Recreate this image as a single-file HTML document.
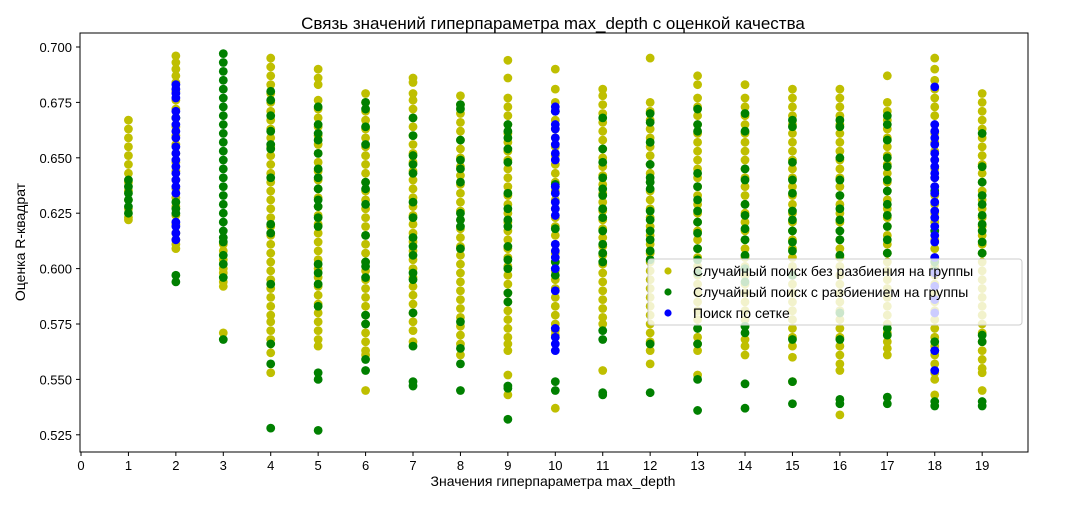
<!DOCTYPE html>
<html><head><meta charset="utf-8">
<style>
body{margin:0;background:#fff;}
svg text{font-family:"Liberation Sans","DejaVu Sans",sans-serif;}
</style></head>
<body>
<svg id="chart" width="1080" height="504" viewBox="0 0 1080 504" xmlns="http://www.w3.org/2000/svg">
<rect x="0" y="0" width="1080" height="504" fill="#fff"/>
<text x="553" y="29" font-size="17" text-anchor="middle" fill="#000">Связь значений гиперпараметра max_depth с оценкой качества</text>
<g id="marks"></g>
<rect x="80" y="33" width="948" height="419" fill="none" stroke="#000" stroke-width="1"/>
<g id="axes"></g>
<text x="553" y="486" font-size="14" text-anchor="middle">Значения гиперпараметра max_depth</text>
<text x="0" y="0" font-size="14" text-anchor="middle" transform="translate(25,242) rotate(-90)">Оценка R-квадрат</text>
<g>
<rect x="648" y="259" width="374" height="66" rx="3" fill="#fff" fill-opacity="0.8" stroke="#ccc" stroke-width="1"/>
<circle cx="668" cy="271" r="3.6" fill="#bfbf00"/>
<text x="693" y="276" font-size="14">Случайный поиск без разбиения на группы</text>
<circle cx="668" cy="292" r="3.6" fill="#008000"/>
<text x="693" y="297" font-size="14">Случайный поиск с разбиением на группы</text>
<circle cx="668" cy="313" r="3.6" fill="#0000ff"/>
<text x="693" y="318" font-size="14">Поиск по сетке</text>
</g>
</svg>
<script>
const depths=[1,2,3,4,5,6,7,8,9,10,11,12,13,14,15,16,17,18,19];
const xTicks=[0,1,2,3,4,5,6,7,8,9,10,11,12,13,14,15,16,17,18,19];
const yTicks=[0.525,0.550,0.575,0.600,0.625,0.650,0.675,0.700];
const randomScores=[
[0.667,0.663,0.659,0.655,0.651,0.647,0.643,0.639,0.635,0.631,0.627,0.623,0.622],
[0.696,0.693,0.690,0.687,0.684,0.680,0.676,0.672,0.668,0.664,0.660,0.656,0.652,0.648,0.644,0.640,0.636,0.632,0.628,0.624,0.620,0.616,0.613,0.611,0.609],
[0.611,0.608,0.604,0.600,0.598,0.594,0.592,0.571],
[0.695,0.691,0.687,0.683,0.679,0.675,0.671,0.667,0.663,0.659,0.655,0.651,0.647,0.643,0.639,0.635,0.631,0.627,0.623,0.619,0.615,0.611,0.607,0.603,0.599,0.595,0.591,0.587,0.583,0.579,0.576,0.572,0.568,0.562,0.553],
[0.690,0.686,0.683,0.676,0.672,0.668,0.664,0.660,0.656,0.652,0.648,0.644,0.640,0.636,0.632,0.628,0.624,0.620,0.616,0.612,0.608,0.604,0.600,0.596,0.592,0.588,0.584,0.580,0.576,0.572,0.568,0.565],
[0.679,0.675,0.671,0.667,0.663,0.659,0.655,0.651,0.647,0.643,0.639,0.635,0.631,0.627,0.623,0.619,0.615,0.611,0.607,0.603,0.599,0.595,0.591,0.587,0.583,0.579,0.575,0.571,0.567,0.563,0.561,0.545],
[0.686,0.684,0.679,0.676,0.672,0.668,0.664,0.660,0.656,0.652,0.648,0.644,0.640,0.636,0.632,0.628,0.624,0.620,0.616,0.612,0.608,0.604,0.600,0.596,0.592,0.588,0.584,0.580,0.576,0.572,0.567],
[0.678,0.674,0.670,0.666,0.662,0.658,0.654,0.650,0.646,0.642,0.638,0.634,0.630,0.626,0.622,0.618,0.614,0.610,0.606,0.602,0.598,0.594,0.590,0.586,0.582,0.578,0.574,0.570,0.566,0.561],
[0.694,0.686,0.677,0.673,0.669,0.665,0.661,0.657,0.653,0.649,0.645,0.641,0.637,0.633,0.629,0.625,0.621,0.617,0.613,0.609,0.605,0.601,0.597,0.593,0.589,0.585,0.581,0.577,0.573,0.569,0.566,0.563,0.552,0.543],
[0.690,0.681,0.675,0.671,0.667,0.663,0.659,0.655,0.651,0.647,0.643,0.639,0.635,0.631,0.627,0.623,0.619,0.615,0.611,0.607,0.603,0.599,0.595,0.591,0.587,0.583,0.579,0.575,0.572,0.570,0.537],
[0.681,0.678,0.674,0.670,0.666,0.662,0.658,0.654,0.650,0.646,0.642,0.638,0.634,0.630,0.626,0.622,0.618,0.614,0.610,0.606,0.602,0.598,0.594,0.590,0.586,0.582,0.578,0.575,0.554],
[0.695,0.675,0.671,0.667,0.663,0.659,0.655,0.651,0.647,0.643,0.639,0.635,0.631,0.627,0.623,0.619,0.615,0.611,0.607,0.603,0.599,0.595,0.591,0.587,0.583,0.579,0.575,0.571,0.567,0.563,0.557],
[0.687,0.683,0.677,0.673,0.669,0.665,0.661,0.657,0.653,0.649,0.645,0.641,0.637,0.633,0.629,0.625,0.621,0.617,0.613,0.609,0.605,0.601,0.597,0.593,0.589,0.585,0.581,0.577,0.573,0.569,0.566,0.563,0.552],
[0.683,0.677,0.673,0.669,0.665,0.661,0.657,0.653,0.649,0.645,0.641,0.637,0.633,0.629,0.625,0.621,0.617,0.613,0.609,0.605,0.601,0.597,0.593,0.589,0.585,0.581,0.577,0.574,0.568,0.565,0.561],
[0.681,0.677,0.673,0.669,0.665,0.661,0.657,0.653,0.649,0.645,0.641,0.637,0.633,0.629,0.625,0.621,0.617,0.613,0.609,0.605,0.601,0.597,0.593,0.589,0.585,0.581,0.577,0.573,0.569,0.565,0.560,0.549],
[0.681,0.677,0.673,0.669,0.665,0.661,0.657,0.653,0.649,0.645,0.641,0.637,0.633,0.629,0.625,0.621,0.617,0.613,0.609,0.605,0.601,0.597,0.593,0.589,0.585,0.581,0.577,0.573,0.569,0.565,0.561,0.557,0.554,0.534],
[0.687,0.675,0.671,0.667,0.663,0.659,0.655,0.651,0.647,0.643,0.639,0.635,0.631,0.627,0.623,0.619,0.615,0.611,0.607,0.603,0.599,0.595,0.591,0.587,0.583,0.579,0.575,0.571,0.567,0.564,0.561],
[0.695,0.690,0.685,0.681,0.677,0.673,0.669,0.665,0.661,0.657,0.653,0.649,0.645,0.641,0.637,0.633,0.629,0.625,0.621,0.617,0.613,0.609,0.605,0.601,0.597,0.593,0.589,0.585,0.581,0.577,0.573,0.569,0.565,0.561,0.557,0.553,0.550,0.543],
[0.679,0.675,0.671,0.667,0.663,0.659,0.655,0.651,0.647,0.643,0.639,0.635,0.631,0.627,0.623,0.619,0.615,0.611,0.607,0.603,0.599,0.595,0.591,0.587,0.583,0.579,0.575,0.571,0.567,0.563,0.559,0.555,0.553,0.545]
];
const groupScores=[
[0.640,0.637,0.634,0.631,0.628,0.625],
[0.668,0.630,0.627,0.625,0.597,0.594],
[0.697,0.693,0.689,0.685,0.681,0.677,0.673,0.669,0.665,0.661,0.657,0.653,0.649,0.645,0.641,0.637,0.633,0.629,0.625,0.621,0.617,0.614,0.612,0.606,0.602,0.596,0.568],
[0.680,0.676,0.669,0.662,0.656,0.654,0.641,0.620,0.616,0.593,0.566,0.557,0.528],
[0.673,0.665,0.661,0.658,0.652,0.645,0.641,0.636,0.631,0.628,0.623,0.619,0.602,0.598,0.593,0.583,0.553,0.550,0.527],
[0.675,0.672,0.664,0.656,0.639,0.636,0.629,0.615,0.603,0.601,0.596,0.579,0.575,0.559,0.554],
[0.668,0.660,0.651,0.647,0.643,0.630,0.623,0.614,0.610,0.606,0.598,0.595,0.580,0.565,0.549,0.547],
[0.674,0.672,0.658,0.649,0.645,0.639,0.625,0.622,0.619,0.609,0.576,0.564,0.557,0.545],
[0.665,0.662,0.659,0.654,0.648,0.634,0.627,0.622,0.619,0.610,0.604,0.600,0.589,0.585,0.547,0.546,0.532],
[0.671,0.638,0.618,0.603,0.597,0.549,0.545],
[0.668,0.654,0.648,0.641,0.636,0.633,0.627,0.623,0.617,0.611,0.607,0.603,0.572,0.568,0.544,0.543],
[0.670,0.666,0.657,0.647,0.641,0.639,0.636,0.626,0.622,0.617,0.613,0.608,0.604,0.566,0.544],
[0.672,0.665,0.662,0.643,0.637,0.631,0.626,0.621,0.616,0.609,0.604,0.598,0.573,0.566,0.550,0.536],
[0.670,0.662,0.645,0.640,0.629,0.624,0.618,0.613,0.606,0.600,0.594,0.574,0.571,0.548,0.537],
[0.667,0.664,0.648,0.640,0.634,0.626,0.622,0.617,0.612,0.608,0.597,0.568,0.549,0.539],
[0.667,0.664,0.650,0.640,0.633,0.627,0.622,0.617,0.613,0.606,0.580,0.568,0.541,0.539],
[0.669,0.665,0.658,0.650,0.646,0.640,0.635,0.629,0.624,0.619,0.613,0.607,0.573,0.570,0.542,0.539],
[0.635,0.617,0.603,0.599,0.567,0.563,0.540,0.538],
[0.661,0.646,0.639,0.633,0.629,0.624,0.620,0.617,0.612,0.607,0.570,0.567,0.540,0.538]
];
const gridDepths=[2,10,18];
const gridScores=[
[0.683,0.681,0.679,0.677,0.671,0.668,0.665,0.662,0.659,0.655,0.652,0.649,0.646,0.643,0.640,0.637,0.634,0.621,0.619,0.616,0.613],
[0.673,0.671,0.665,0.663,0.659,0.656,0.652,0.649,0.637,0.634,0.630,0.627,0.624,0.611,0.608,0.605,0.600,0.590,0.573,0.569,0.566,0.563],
[0.682,0.665,0.662,0.659,0.656,0.652,0.649,0.646,0.643,0.641,0.637,0.634,0.630,0.626,0.623,0.619,0.615,0.612,0.605,0.598,0.592,0.586,0.580,0.563,0.554]
];
const NS='http://www.w3.org/2000/svg';
function xScale(d){return 81+d*47.43;}
function yScale(v){return 47+(0.700-v)/0.025*55.4;}
const marks=document.getElementById('marks');
const axes=document.getElementById('axes');
function dot(x,v,color,name){
  const c=document.createElementNS(NS,'circle');
  c.setAttribute('cx',xScale(x));c.setAttribute('cy',yScale(v));c.setAttribute('r',4.4);c.setAttribute('fill',color);
  
  
  marks.appendChild(c);
}
depths.forEach((d,i)=>randomScores[i].forEach(v=>dot(d,v,'#bfbf00','random-search-point')));
depths.forEach((d,i)=>groupScores[i].forEach(v=>dot(d,v,'#008000','group-search-point')));
gridDepths.forEach((d,i)=>gridScores[i].forEach(v=>dot(d,v,'#0000ff','grid-search-point')));
xTicks.forEach(t=>{
  const x=xScale(t);
  const l=document.createElementNS(NS,'line');
  l.setAttribute('x1',x);l.setAttribute('x2',x);l.setAttribute('y1',452);l.setAttribute('y2',456);l.setAttribute('stroke','#000');
  
  
  axes.appendChild(l);
  const tx=document.createElementNS(NS,'text');
  tx.setAttribute('x',x);tx.setAttribute('y',470);tx.setAttribute('font-size','13');tx.setAttribute('text-anchor','middle');
  tx.textContent=t;
  
  
  axes.appendChild(tx);
});
yTicks.forEach(t=>{
  const y=yScale(t);
  const l=document.createElementNS(NS,'line');
  l.setAttribute('x1',76);l.setAttribute('x2',80);l.setAttribute('y1',y);l.setAttribute('y2',y);l.setAttribute('stroke','#000');
  
  
  axes.appendChild(l);
  const tx=document.createElementNS(NS,'text');
  tx.setAttribute('x',72);tx.setAttribute('y',y+5);tx.setAttribute('font-size','13');tx.setAttribute('text-anchor','end');
  tx.textContent=t.toFixed(3);
  
  
  axes.appendChild(tx);
});
</script>
</body></html>
